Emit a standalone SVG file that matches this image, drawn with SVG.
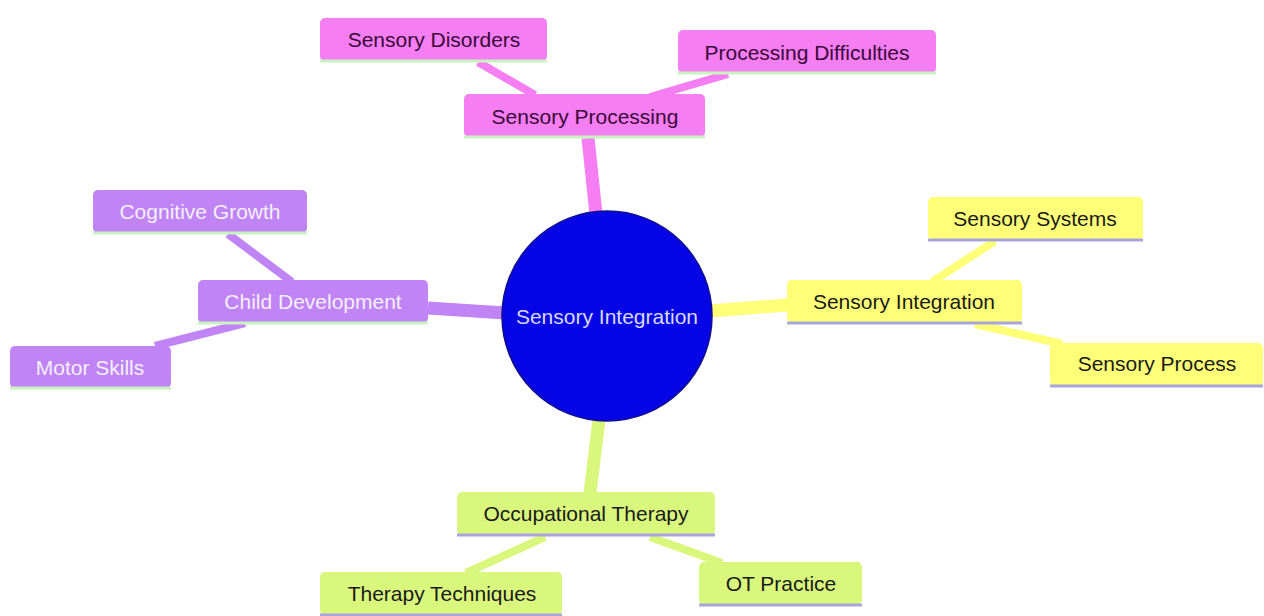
<svg xmlns="http://www.w3.org/2000/svg" width="1264" height="616" viewBox="0 0 1264 616">
<style>
text{font-family:"Liberation Sans",Arial,sans-serif;font-size:21px;text-anchor:middle;dominant-baseline:central}
.e{fill:none;stroke-linecap:butt}
.m{stroke-width:13}
.c{stroke-width:8}
.pk{fill:#f57ef2}.pkl{stroke:#f57ef2}
.pu{fill:#c084f5}.pul{stroke:#c084f5}
.ye{fill:#ffff78}.yel{stroke:#ffff78}
.gr{fill:#d9f77d}.grl{stroke:#d9f77d}
.ul1{stroke:#c8f2c0;stroke-width:3}
.ul2{stroke:#a8a4dc;stroke-width:3}
.tpk{fill:#3a083a}.tpu{fill:#f4f0ff}.tdk{fill:#1a1a1a}
</style>
<rect width="1264" height="616" fill="#ffffff"/>
<g id="connectors">
<line class="e m pkl" x1="596" y1="214" x2="588" y2="138"/>
<line class="e m pul" x1="505" y1="313" x2="428" y2="308"/>
<line class="e m yel" x1="710" y1="311" x2="788" y2="305"/>
<line class="e m grl" x1="599" y1="420" x2="590" y2="493"/>
<line class="e c pkl" x1="478" y1="62" x2="535" y2="95"/>
<line class="e c pkl" x1="728" y1="74" x2="650" y2="97"/>
<line class="e c pul" x1="228" y1="234" x2="292" y2="282"/>
<line class="e c pul" x1="155" y1="346" x2="245" y2="323"/>
<line class="e c yel" x1="995" y1="241" x2="932" y2="282"/>
<line class="e c yel" x1="975" y1="324" x2="1062" y2="344"/>
<line class="e c grl" x1="545" y1="537" x2="466" y2="573"/>
<line class="e c grl" x1="650" y1="537" x2="722" y2="563"/>
</g>
<g id="root">
<circle cx="607" cy="316" r="105" fill="#0505e6" stroke="#10108a" stroke-width="1.5"/>
<text x="607" y="316" fill="#d8d8ff">Sensory Integration</text>
</g>
<g id="sensory-processing">
<rect class="pk" x="464" y="94" width="241" height="43" rx="5"/>
<line class="ul1" x1="464" y1="137" x2="705" y2="137"/>
<text class="tpk" x="585" y="116">Sensory Processing</text>
</g>
<g id="sensory-disorders">
<rect class="pk" x="320" y="18" width="227" height="43" rx="5"/>
<line class="ul1" x1="320" y1="61" x2="547" y2="61"/>
<text class="tpk" x="434" y="39">Sensory Disorders</text>
</g>
<g id="processing-difficulties">
<rect class="pk" x="678" y="30" width="258" height="43" rx="5"/>
<line class="ul1" x1="678" y1="73" x2="936" y2="73"/>
<text class="tpk" x="807" y="52">Processing Difficulties</text>
</g>
<g id="child-development">
<rect class="pu" x="198" y="280" width="230" height="43" rx="5"/>
<line class="ul1" x1="198" y1="323" x2="428" y2="323"/>
<text class="tpu" x="313" y="301">Child Development</text>
</g>
<g id="cognitive-growth">
<rect class="pu" x="93" y="190" width="214" height="43" rx="5"/>
<line class="ul1" x1="93" y1="233" x2="307" y2="233"/>
<text class="tpu" x="200" y="211">Cognitive Growth</text>
</g>
<g id="motor-skills">
<rect class="pu" x="10" y="346" width="161" height="42" rx="5"/>
<line class="ul1" x1="10" y1="388" x2="171" y2="388"/>
<text class="tpu" x="90" y="367">Motor Skills</text>
</g>
<g id="sensory-integration">
<rect class="ye" x="787" y="280" width="235" height="43" rx="5"/>
<line class="ul2" x1="787" y1="323" x2="1022" y2="323"/>
<text class="tdk" x="904" y="301">Sensory Integration</text>
</g>
<g id="sensory-systems">
<rect class="ye" x="928" y="197" width="215" height="43" rx="5"/>
<line class="ul2" x1="928" y1="240" x2="1143" y2="240"/>
<text class="tdk" x="1035" y="218">Sensory Systems</text>
</g>
<g id="sensory-process">
<rect class="ye" x="1050" y="343" width="213" height="43" rx="5"/>
<line class="ul2" x1="1050" y1="386" x2="1263" y2="386"/>
<text class="tdk" x="1157" y="363">Sensory Process</text>
</g>
<g id="occupational-therapy">
<rect class="gr" x="457" y="492" width="258" height="43" rx="5"/>
<line class="ul2" x1="457" y1="535" x2="715" y2="535"/>
<text class="tdk" x="586" y="513">Occupational Therapy</text>
</g>
<g id="therapy-techniques">
<rect class="gr" x="320" y="572" width="242" height="43" rx="5"/>
<line class="ul2" x1="320" y1="615" x2="562" y2="615"/>
<text class="tdk" x="442" y="593">Therapy Techniques</text>
</g>
<g id="ot-practice">
<rect class="gr" x="699" y="562" width="163" height="43" rx="5"/>
<line class="ul2" x1="699" y1="605" x2="862" y2="605"/>
<text class="tdk" x="781" y="583">OT Practice</text>
</g>
</svg>
